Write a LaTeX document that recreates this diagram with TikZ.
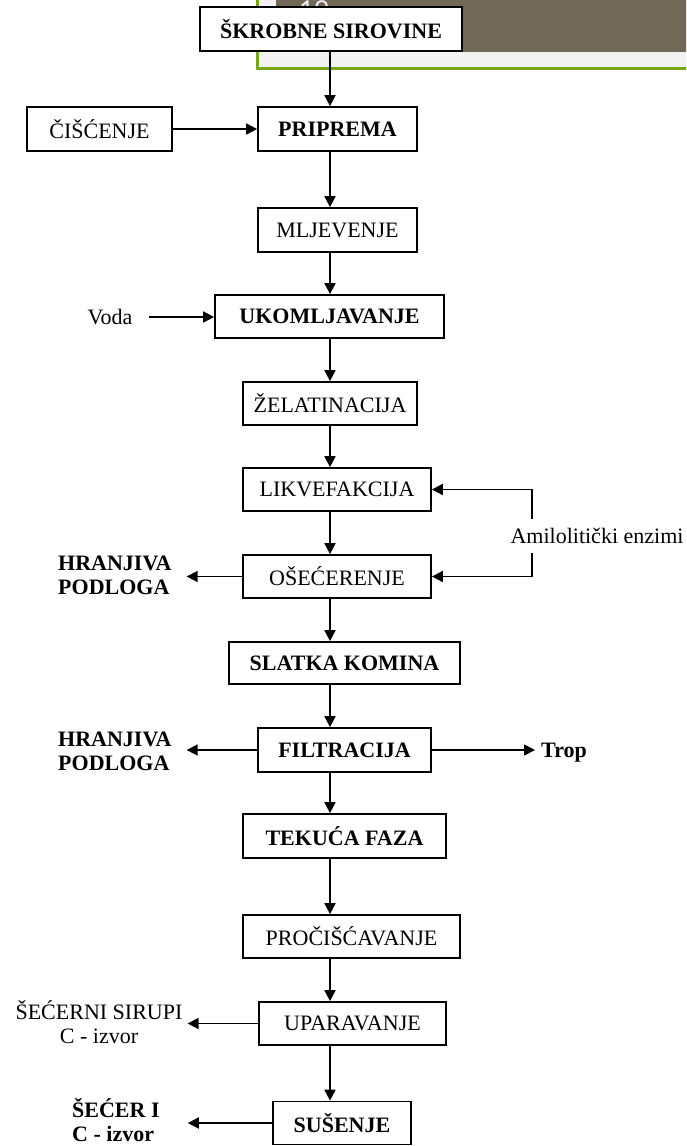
\documentclass[tikz,border=0pt]{standalone}
\usepackage{fontspec}
\setmainfont{Liberation Serif}
\newfontfamily\pagenumfont{Lato}
\usetikzlibrary{arrows.meta}
\definecolor{panelgray}{HTML}{F2F2F2}
\definecolor{panelgreen}{HTML}{77A712}
\definecolor{bandbrown}{HTML}{726858}
\tikzset{
  txt/.style={font=\fontsize{22}{24}\selectfont, inner sep=0pt},
  txtb/.style={font=\fontsize{22}{24}\selectfont\bfseries, inner sep=0pt},
  stepbox/.style={draw, line width=1.7pt, fill=white, inner sep=0pt,
                  minimum height=44pt, txt},
  boldbox/.style={stepbox, txtb},
  flow/.style={line width=1.7pt, -{Triangle[length=11pt,width=11pt]}}
}
\begin{document}
\begin{tikzpicture}[x=1pt, y=-1pt]
\useasboundingbox (0,0) rectangle (686,1146);
\clip (0,0) rectangle (686,1146);

% page header band
\draw[panelgreen, line width=3pt, fill=panelgray] (257.5,-20) rectangle (720,68.5);
\fill[bandbrown] (276,-20) rectangle (720,52);
\node[anchor=base west, inner sep=0pt, text=panelgray,
      font=\pagenumfont\fontsize{26}{28}\selectfont] (pagenum) at (299,19) {19};

% process steps
\node[boldbox, minimum width=262pt, minimum height=44pt] (skr)  at (331,29)    {ŠKROBNE SIROVINE};
\node[stepbox, minimum width=145pt] (cis)  at (99.5,129)   {ČIŠĆENJE};
\node[boldbox, minimum width=159pt] (prip) at (337.5,129)  {PRIPREMA};
\node[stepbox, minimum width=159pt] (mlj)  at (337.5,230)  {MLJEVENJE};
\node[boldbox, minimum width=229pt, minimum height=43pt] (ukom) at (329.5,316.5) {UKOMLJAVANJE};
\node[stepbox, minimum width=174pt, minimum height=43pt] (zel)  at (330,403.5)   {ŽELATINACIJA};
\node[stepbox, minimum width=188pt, minimum height=43pt] (lik)  at (337,489.5)   {LIKVEFAKCIJA};
\node[stepbox, minimum width=188pt, minimum height=43pt] (ose)  at (337,576.5)   {OŠEĆERENJE};
\node[boldbox, minimum width=231pt, minimum height=42pt] (slat) at (344.5,663)   {SLATKA KOMINA};
\node[boldbox, minimum width=173pt, minimum height=44pt] (filt) at (344.5,750)   {FILTRACIJA};
\node[boldbox, minimum width=203pt, minimum height=44pt] (tek)  at (344.5,836)   {TEKUĆA FAZA};
\node[stepbox, minimum width=217pt, minimum height=43pt] (proc) at (351.5,936.5) {PROČIŠĆAVANJE};
\node[stepbox, minimum width=187pt, minimum height=43pt] (upar) at (352.5,1023.5) {UPARAVANJE};
\node[boldbox, minimum width=138pt, minimum height=43pt] (sus)  at (342,1123)  {SUŠENJE};

% inputs and outputs
\node[txt] (voda) at (110,317) {Voda};
\node[txt, minimum height=34pt] (amil) at (597,536) {Amilolitički enzimi};
\node[txtb, anchor=west, align=left] (hran1) at (58,575) {HRANJIVA\\PODLOGA};
\node[txtb, anchor=west, align=left] (hran2) at (58,751) {HRANJIVA\\PODLOGA};
\node[txtb, anchor=base west] (trop) at (541,757.5) {Trop};
\node[txt, align=center] (sirup) at (99,1022) {ŠEĆERNI SIRUPI\\C - izvor};
\node[txtb, anchor=west, align=left] (secer) at (72,1120) {ŠEĆER I\\C - izvor};

% main line
\coordinate (spine) at (330,0);
\draw[flow] (skr.south -| spine)  -- (prip.north -| spine);
\draw[flow] (prip.south -| spine) -- (mlj.north -| spine);
\draw[flow] (mlj.south -| spine)  -- (ukom.north -| spine);
\draw[flow] (ukom.south -| spine) -- (zel.north -| spine);
\draw[flow] (zel.south -| spine)  -- (lik.north -| spine);
\draw[flow] (lik.south -| spine)  -- (ose.north -| spine);
\draw[flow] (ose.south -| spine)  -- (slat.north -| spine);
\draw[flow] (slat.south -| spine) -- (filt.north -| spine);
\draw[flow] (filt.south -| spine) -- (tek.north -| spine);
\draw[flow] (tek.south -| spine)  -- (proc.north -| spine);
\draw[flow] (proc.south -| spine) -- (upar.north -| spine);
\draw[flow] (upar.south -| spine) -- (sus.north -| spine);

% side streams
\draw[flow] (cis.east) -- (prip.west);
\draw[flow, shorten <=16pt] (voda.east) -- (voda.east -| ukom.west);
\coordinate (fb) at (532,0);
\draw[flow] (amil.north -| fb) |- (lik.east);
\draw[flow] (amil.south -| fb) |- (ose.east);
\draw[flow, shorten >=15pt] (ose.west) -- (ose.west -| hran1.east);
\draw[flow, shorten >=15pt] (filt.west) -- (filt.west -| hran2.east);
\draw[flow, shorten >=6pt] (filt.east) -- (filt.east -| trop.west);
\draw[flow, shorten >=5pt] (upar.west) -- (upar.west -| sirup.east);
\draw[flow, shorten >=28pt] (sus.west) -- (sus.west -| secer.east);
\end{tikzpicture}
\end{document}
